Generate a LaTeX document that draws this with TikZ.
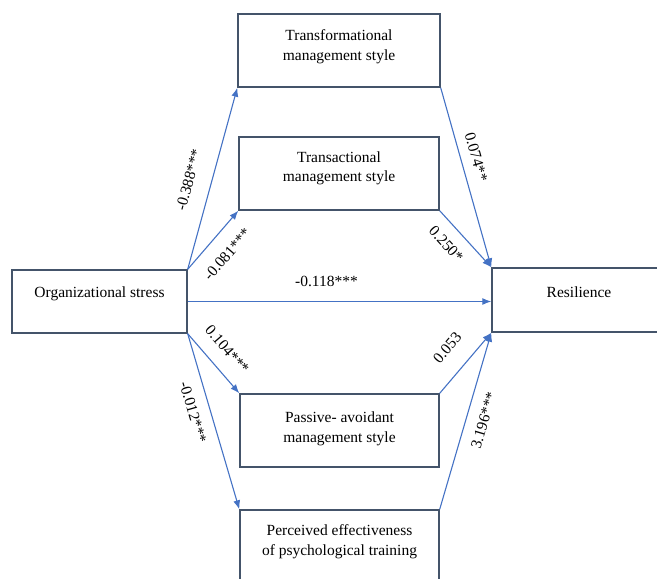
\documentclass[tikz,border=0pt]{standalone}
\usepackage{fontspec}
\setmainfont{Liberation Serif}
\usetikzlibrary{arrows.meta}
\definecolor{boxline}{HTML}{44546A}
\definecolor{pathblue}{HTML}{4472C4}

\begin{document}
\begin{tikzpicture}[x=1pt,y=-1pt,
  varbox/.style={draw=boxline,line width=1.4pt,inner sep=0pt},
  boxtext/.style={align=center,inner sep=0pt,font=\fontsize{15.5}{19.5}\selectfont},
  effect/.style={draw=pathblue,line width=1.1pt,-{Latex[length=9pt,width=7pt]}},
  coef/.style={sloped,inner sep=1pt,font=\fontsize{15.5}{18}\selectfont}]

\clip (0,0) rectangle (657,579);

% variable boxes
\node[varbox,minimum width=175pt,minimum height=63pt] (org) at (99.5,301.5) {};
\node[varbox,minimum width=202pt,minimum height=73pt] (tf)  at (339,50.5) {};
\node[varbox,minimum width=200pt,minimum height=73pt] (ts)  at (339,173.5) {};
\node[varbox,minimum width=199pt,minimum height=73pt] (pa)  at (339.5,430.5) {};
\node[varbox,minimum width=199pt,minimum height=74pt] (pe)  at (339.5,547) {};
\node[varbox,minimum width=174pt,minimum height=64pt] (res) at (579,300) {};

% box captions
\node[boxtext] (org-t) at (99.5,294) {Organizational stress};
\node[boxtext] (tf-t)  at (339,46.5) {Transformational\\management style};
\node[boxtext] (ts-t)  at (339,168.5) {Transactional\\management style};
\node[boxtext] (pa-t)  at (339.5,429) {Passive- avoidant\\management style};
\node[boxtext] (pe-t)  at (339.5,541.5) {Perceived effectiveness\\of psychological training};
\node[boxtext] (res-t) at (579,292) {Resilience};

% paths from organizational stress
\draw[effect] (org.north east) -- node[coef,pos=0.46,above=15.7pt] (c1) {-0.388***} (tf.south west);
\draw[effect] (org.north east) -- node[coef,pos=0.48,below=13.4pt] (c2) {-0.081***} (ts.south west);
\draw[effect] (org.east) -- node[coef,pos=0.457,above=13.7pt] (c3) {-0.118***} (org.east -| res.west);
\draw[effect] (org.south east) -- node[coef,pos=0.48,above=12.7pt] (c4) {0.104***} (pa.north west);
\draw[effect] (org.south east) -- node[coef,pos=0.42,below=10.2pt] (c5) {-0.012***} (pe.north west);

% paths into resilience
\draw[effect] (tf.south east) -- node[coef,pos=0.41,above=8.5pt] (c6) {0.074**} (res.north west);
\draw[effect] (ts.south east) -- node[coef,pos=0.38,below=10.8pt] (c7) {0.250*} (res.north west);
\draw[effect] (pa.north east) -- node[coef,pos=0.50,above=17.1pt] (c8) {0.053} (res.south west);
\draw[effect] (pe.north east) -- node[coef,pos=0.53,below=10.6pt] (c9) {3.196***} (res.south west);

\end{tikzpicture}
\end{document}
